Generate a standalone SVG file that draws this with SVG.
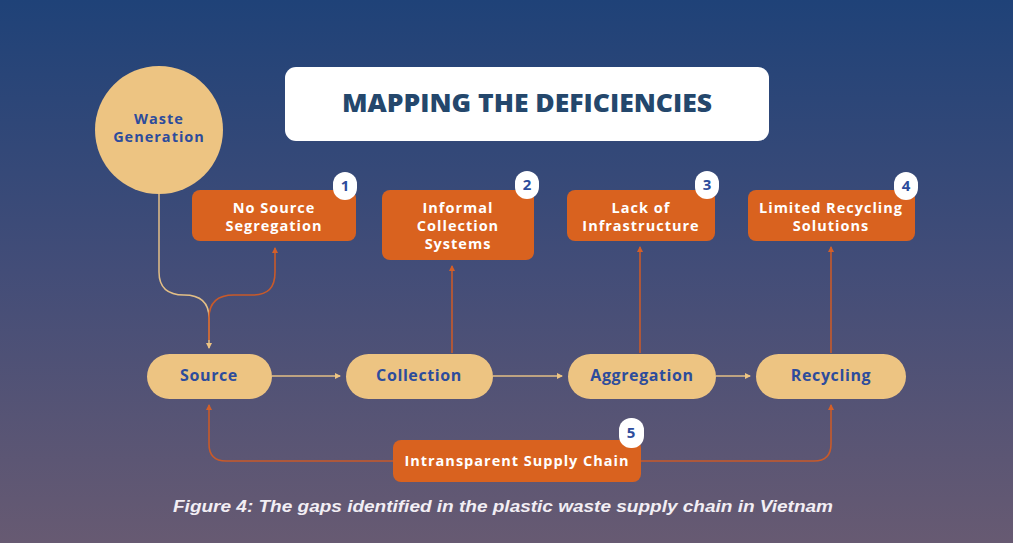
<svg xmlns="http://www.w3.org/2000/svg" width="1013" height="543" viewBox="0 0 1013 543">
<defs>
<linearGradient id="bg" x1="0" y1="0" x2="0" y2="1">
<stop offset="0" stop-color="#1f4278"/>
<stop offset="0.5" stop-color="#434d78"/>
<stop offset="1" stop-color="#675a72"/>
</linearGradient>
<marker id="at" viewBox="0 0 6 6" refX="5" refY="3" markerWidth="6" markerHeight="6" orient="auto" markerUnits="userSpaceOnUse">
<path d="M0,0 L6,3 L0,6 z" fill="#edc482"/>
</marker>
<marker id="ao" viewBox="0 0 6 6" refX="5" refY="3" markerWidth="6" markerHeight="6" orient="auto" markerUnits="userSpaceOnUse">
<path d="M0,0 L6,3 L0,6 z" fill="#d35f28"/>
</marker>
</defs>
<style>
.pill{fill:#edc482}
.gap{fill:#d9621f}
.badge{fill:#ffffff}
.pt{font-family:"Open Sans","Liberation Sans",sans-serif;font-weight:700;font-size:16px;letter-spacing:0.6px;fill:#2d4c9c;text-anchor:middle}
.pt2{font-family:"Open Sans","Liberation Sans",sans-serif;font-weight:700;font-size:14.5px;letter-spacing:1px;fill:#2d4c9c;text-anchor:middle}
.gt{font-family:"Open Sans","Liberation Sans",sans-serif;font-weight:700;font-size:14.5px;letter-spacing:1px;fill:#ffffff;text-anchor:middle}
.bt{font-family:"Open Sans","Liberation Sans",sans-serif;font-weight:700;font-size:15px;fill:#2d4c9c;text-anchor:middle}
.tan{fill:none;stroke:#e3bf86;stroke-width:1.5}
.org{fill:none;stroke:#c85a2a;stroke-width:1.6}
</style>
<rect x="0" y="0" width="1013" height="543" fill="url(#bg)"/>

<g id="title">
<rect x="285" y="67" width="484" height="74" rx="11" fill="#ffffff"/>
<text x="527" y="112" font-family="Open Sans, Liberation Sans, sans-serif" font-weight="800" font-size="24" fill="#24476c" text-anchor="middle" textLength="370" lengthAdjust="spacingAndGlyphs">MAPPING THE DEFICIENCIES</text>
</g>

<g id="connectors">
<path class="tan" d="M159,194 V272 C159,288 168,295 184,295 C200,295 209,302 209,318 V348" marker-end="url(#at)"/>
<path class="org" d="M209,340 V318 C209,302 218,295 234,295 H252 C268,295 275,288 275,272 V248" marker-end="url(#ao)"/>
<path class="org" d="M452,353 V266" marker-end="url(#ao)"/>
<path class="org" d="M640,353 V247" marker-end="url(#ao)"/>
<path class="org" d="M831,353 V247" marker-end="url(#ao)"/>
<path class="tan" d="M272,376 H340" marker-end="url(#at)"/>
<path class="tan" d="M493,376 H562" marker-end="url(#at)"/>
<path class="tan" d="M716,376 H750" marker-end="url(#at)"/>
<path class="org" d="M393,461 H226 Q209,461 209,444 V405" marker-end="url(#ao)"/>
<path class="org" d="M641,461 H814 Q831,461 831,444 V405" marker-end="url(#ao)"/>
</g>

<g id="waste-generation">
<circle cx="159" cy="130" r="64" fill="#edc482"/>
<text class="pt2" x="159" y="124">Waste</text>
<text class="pt2" x="159" y="142">Generation</text>
</g>

<g id="gap1">
<rect class="gap" x="192" y="190" width="164" height="51" rx="8"/>
<text class="gt" x="274" y="213">No Source</text>
<text class="gt" x="274" y="231">Segregation</text>
<rect class="badge" x="333" y="172" width="24" height="28" rx="12"/>
<text class="bt" x="345" y="191">1</text>
</g>

<g id="gap2">
<rect class="gap" x="382" y="190" width="152" height="70" rx="8"/>
<text class="gt" x="458" y="213">Informal</text>
<text class="gt" x="458" y="231">Collection</text>
<text class="gt" x="458" y="249">Systems</text>
<rect class="badge" x="515" y="171" width="24" height="28" rx="12"/>
<text class="bt" x="527" y="190">2</text>
</g>

<g id="gap3">
<rect class="gap" x="567" y="190" width="148" height="51" rx="8"/>
<text class="gt" x="641" y="213">Lack of</text>
<text class="gt" x="641" y="231">Infrastructure</text>
<rect class="badge" x="695" y="171" width="24" height="28" rx="12"/>
<text class="bt" x="707" y="190">3</text>
</g>

<g id="gap4">
<rect class="gap" x="748" y="190" width="167" height="51" rx="8"/>
<text class="gt" x="831" y="213">Limited Recycling</text>
<text class="gt" x="831" y="231">Solutions</text>
<rect class="badge" x="894" y="172" width="24" height="28" rx="12"/>
<text class="bt" x="906" y="191">4</text>
</g>

<g id="source">
<rect class="pill" x="147" y="354" width="125" height="45" rx="22.5"/>
<text class="pt" x="209" y="381">Source</text>
</g>
<g id="collection">
<rect class="pill" x="346" y="354" width="147" height="45" rx="22.5"/>
<text class="pt" x="419" y="381">Collection</text>
</g>
<g id="aggregation">
<rect class="pill" x="568" y="354" width="148" height="45" rx="22.5"/>
<text class="pt" x="642" y="381">Aggregation</text>
</g>
<g id="recycling">
<rect class="pill" x="756" y="354" width="150" height="45" rx="22.5"/>
<text class="pt" x="831" y="381">Recycling</text>
</g>

<g id="gap5">
<rect class="gap" x="393" y="440" width="248" height="42" rx="8"/>
<text class="gt" x="517" y="466">Intransparent Supply Chain</text>
<rect class="badge" x="619" y="418" width="25" height="30" rx="12"/>
<text class="bt" x="631" y="438">5</text>
</g>

<text x="503" y="512" font-family="Liberation Sans, Arial, sans-serif" font-weight="700" font-style="italic" font-size="16" fill="#f2eef4" text-anchor="middle" textLength="660" lengthAdjust="spacingAndGlyphs">Figure 4: The gaps identified in the plastic waste supply chain in Vietnam</text>
</svg>
